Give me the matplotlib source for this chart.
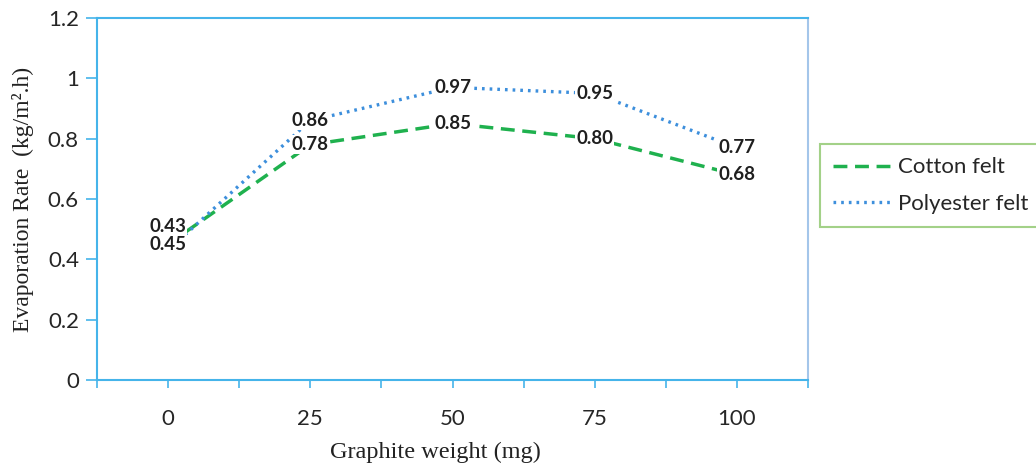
import matplotlib
matplotlib.use("Agg")
import matplotlib.pyplot as plt
from matplotlib.ticker import FixedLocator

# data
weights = ["0", "25", "50", "75", "100"]
cotton = [0.45, 0.78, 0.85, 0.80, 0.68]
polyester = [0.43, 0.86, 0.97, 0.95, 0.77]
yticks = [0, 0.2, 0.4, 0.6, 0.8, 1, 1.2]

GREEN = "#1fb14e"
BLUE = "#3d8fdc"
SPINE = "#45b4ea"

fig = plt.figure(figsize=(10.36, 4.66), dpi=100)
ax = fig.add_axes([97 / 1036, 1 - 380 / 466, 711 / 1036, 362 / 466])

x = list(range(len(weights)))
ax.plot(x, cotton, color=GREEN, lw=2.5, ls=(0, (4, 2.2)), label="Cotton felt", zorder=2)
ax.plot(x, polyester, color=BLUE, lw=2.4, ls=(0, (0.8, 1.5)), label="Polyester felt", zorder=2)

# data labels (white boxes hide the line under them, like Excel)
lab_font = dict(family="Lato", weight="bold", size=13.5, color="#1f1f1f")
box = dict(boxstyle="square,pad=0.05", fc="white", ec="none")
for i, v in enumerate(cotton):
    ax.annotate(f"{v:.2f}", (i, v), xytext=(0, 0), textcoords="offset points",
                ha="center", va="center", bbox=box, zorder=3, **lab_font)
for i, v in enumerate(polyester):
    dy = 17 if i == 0 else 0
    ax.annotate(f"{v:.2f}", (i, v), xytext=(0, dy), textcoords="offset points",
                ha="center", va="center", bbox=box, zorder=3, **lab_font)

ax.set_xlim(-0.5, len(weights) - 0.5)
ax.set_ylim(0, 1.2)
ax.set_xticks(x)
ax.set_xticklabels(weights)
ax.xaxis.set_minor_locator(FixedLocator([i - 0.5 for i in range(len(weights) + 1)]))
ax.set_yticks(yticks)
ax.set_yticklabels([f"{t:g}" for t in yticks])

for t in ax.get_xticklabels() + ax.get_yticklabels():
    t.set_fontfamily("Lato")
    t.set_fontsize(16)
    t.set_color("#262626")

ax.tick_params(axis="x", which="both", direction="out", length=6, width=1.2,
               color=SPINE, pad=15)
ax.tick_params(axis="y", direction="out", length=8, width=1.2, color=SPINE, pad=5)

for side in ["left", "bottom", "top"]:
    ax.spines[side].set_color(SPINE)
    ax.spines[side].set_linewidth(1.5)
ax.spines["right"].set_color("#a4c6ea")
ax.spines["right"].set_linewidth(1.5)

ax.set_xlabel("Graphite weight (mg)", family="Liberation Serif", fontsize=17.5, color="#222222")
ax.set_ylabel("Evaporation Rate  (kg/m².h)", family="Liberation Serif", fontsize=17, color="#222222")
ax.xaxis.set_label_coords(338 / 711, -62 / 362)
ax.yaxis.set_label_coords(-63 / 711, 0.5)

leg = fig.legend(loc="upper left", bbox_to_anchor=(820 / 1036, 1 - 144 / 466),
                 prop=dict(family="Lato", size=16), frameon=True, fancybox=False,
                 handlelength=2.7, handletextpad=0.2, borderpad=0.6, labelspacing=0.75,
                 borderaxespad=0)
leg.get_frame().set_edgecolor("#8cc66b")
leg.get_frame().set_linewidth(1.5)
for t in leg.get_texts():
    t.set_color("#262626")

fig.savefig("out.png", dpi=100)
